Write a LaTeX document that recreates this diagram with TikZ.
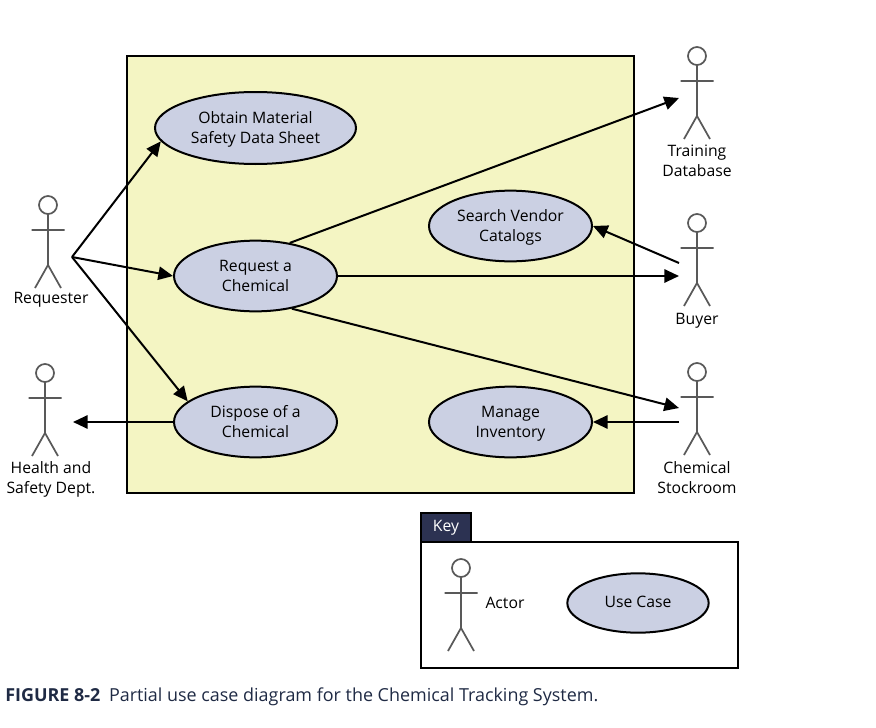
\documentclass[tikz,border=0pt]{standalone}
\usepackage{fontspec}
\setmainfont{Open Sans}
\usetikzlibrary{arrows.meta,shapes.geometric}
\definecolor{sysyellow}{HTML}{F4F5C3}
\definecolor{caseblue}{HTML}{CBD0E3}
\definecolor{keynavy}{HTML}{2C3252}
\definecolor{stickgray}{HTML}{595959}
\definecolor{captionink}{HTML}{1F2A44}
\tikzset{
  usecase/.style={ellipse,draw=black,line width=1.5pt,fill=caseblue,inner sep=0pt,align=center,minimum width=122.25pt,minimum height=52.5pt,font=\fontsize{11.8}{15}\selectfont,text height=30pt,text depth=7.5pt},
  label/.style={align=center,inner sep=0pt,font=\fontsize{11.8}{15}\selectfont,execute at begin node=\strut,execute at end node=\strut},
  assoc/.style={line width=1.5pt,-{Triangle[length=11pt,width=10pt]}},
  stickman/.pic={
    \draw[stickgray,line width=1.3pt] (0,0) circle (9);
    \draw[stickgray,line width=1.3pt] (0,9) -- (0,60) (-16.5,25) -- (16.5,25) (-13,83) -- (0,60) -- (13,83);
  }
}
\begin{document}
\begin{tikzpicture}[x=0.75pt,y=-0.75pt]
  \useasboundingbox (0,0) rectangle (876,728);
  \node[draw=black,line width=1.5pt,fill=sysyellow,minimum width=380.25pt,minimum height=327.75pt,inner sep=0pt] (system) at (380.5,274.5) {};

  % use cases
  \node[usecase,minimum width=150.75pt,minimum height=54pt] (obtain) at (255.5,128) {Obtain Material\\Safety Data Sheet};
  \node[usecase] (request) at (255.5,276) {Request a\\Chemical};
  \node[usecase] (dispose) at (255.5,422) {Dispose of a\\Chemical};
  \node[usecase] (search) at (510.5,226) {Search Vendor\\Catalogs};
  \node[usecase] (manage) at (510.5,422) {Manage\\Inventory};

  % actors
  \pic at (48,205) {stickman};
  \pic at (45,373) {stickman};
  \pic at (697,56) {stickman};
  \pic at (697,223) {stickman};
  \pic at (697,372) {stickman};
  \node[label] (requester) at (51,299) {Requester};
  \node[label] (health) at (51,481) {Health and\\Safety Dept.};
  \node[label] (training) at (697,164) {Training\\Database};
  \node[label] (buyer) at (697,320) {Buyer};
  \node[label] (stockroom) at (697,481) {Chemical\\Stockroom};

  % free ends beside the actors
  \coordinate (requesterhand) at (72,257);
  \coordinate (healthhand) at (73,422);
  \coordinate (traininghand) at (679,98);
  \coordinate (buyerhandin) at (679,276);
  \coordinate (buyerhandout) at (679,263);
  \coordinate (stockhandin) at (679,408);
  \coordinate (stockhandout) at (679,422);

  \draw[assoc] (requesterhand) -- (obtain.188);
  \draw[assoc] (requesterhand) -- (request.west);
  \draw[assoc] (requesterhand) -- (dispose.163);
  \draw[assoc] (dispose.west) -- (healthhand);
  \draw[assoc] (request.44) -- (traininghand);
  \draw[assoc] (request.east) -- (buyerhandin);
  \draw[assoc] (request.-42) -- (stockhandin);
  \draw[assoc] (buyerhandout) -- (search.east);
  \draw[assoc] (stockhandout) -- (manage.east);

  % key
  \node[draw=black,line width=1.5pt,minimum width=237.75pt,minimum height=94.5pt,inner sep=0pt] (keybox) at (579.5,604.5) {};
  \node[draw=black,line width=1.5pt,fill=keynavy,text=white,minimum width=37.5pt,minimum height=21.75pt,inner sep=0pt,font=\fontsize{11.8}{15}\selectfont] (keytab) at (446,527.5) {Key};
  \pic at (461,568) {stickman};
  \node[label] (actorlabel) at (505,604) {Actor};
  \node[usecase,minimum width=106pt,minimum height=44.5pt,text height=13pt,text depth=7pt] (usecasekey) at (638,603) {Use Case};

  % caption
  \node[anchor=west,inner sep=0pt,text=captionink,font=\fontsize{13.45}{15}\selectfont] (caption) at (5,696.5) {\textbf{FIGURE 8-2}\hspace{6.5pt}Partial use case diagram for the Chemical Tracking System.};
\end{tikzpicture}
\end{document}
